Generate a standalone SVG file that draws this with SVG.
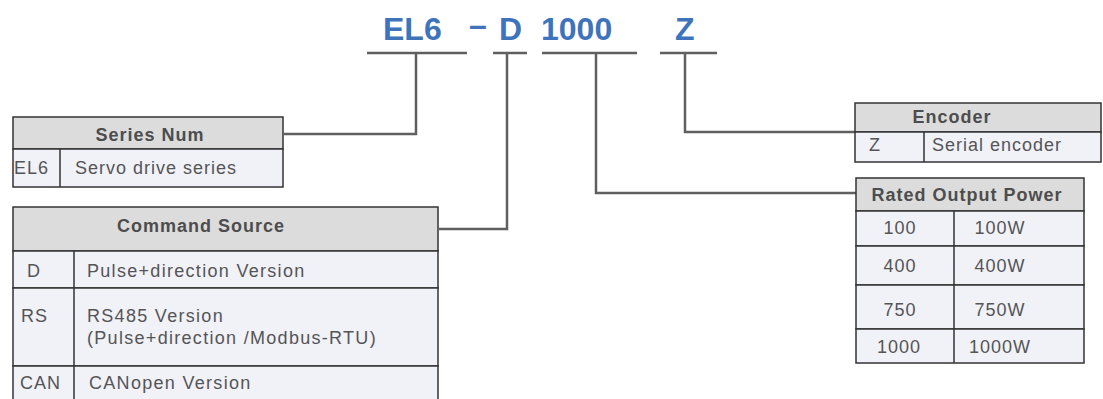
<svg xmlns="http://www.w3.org/2000/svg" width="1103" height="399" viewBox="0 0 1103 399">
<style>
.title{font-family:"Liberation Sans",Arial,sans-serif;font-weight:bold;font-size:32px;fill:#3f74bb}
.hdr{fill:#dcdcdc;stroke:#333;stroke-width:1.5}
.body{fill:#f1f1f8;stroke:#333;stroke-width:1.5}
.ln{stroke:#333;stroke-width:1.5;fill:none}
.ht{font-family:"Liberation Sans",Arial,sans-serif;font-weight:bold;font-size:18px;fill:#4d4d4d;text-anchor:middle;letter-spacing:1px}
.bt{font-family:"Liberation Sans",Arial,sans-serif;font-size:18px;fill:#555;letter-spacing:1px}
.wide{letter-spacing:1.3px}
.mid{text-anchor:middle}
.conn{stroke:#5f5f5f;stroke-width:2.5;fill:none}
</style>
<rect width="1103" height="399" fill="#fff"/>
<g id="title">
<text class="title" x="383" y="40">EL6</text>
<text class="title" x="469" y="36">–</text>
<text class="title" x="499" y="40">D</text>
<text class="title" x="541" y="40">1000</text>
<text class="title" x="675" y="40">Z</text>
</g>
<g id="connectors">
<path class="conn" d="M367 53H467M493 53H527M542 53H637M660 53H717"/>
<path class="conn" d="M416 53V134H284"/>
<path class="conn" d="M507 53V229H439"/>
<path class="conn" d="M596 53V193H856"/>
<path class="conn" d="M685 53V132H855"/>
</g>
<g id="series-num">
<rect class="hdr" x="13" y="117" width="270" height="32"/>
<rect class="body" x="13" y="149" width="270" height="38"/>
<path class="ln" d="M60 149V187"/>
<text class="ht" x="150" y="141">Series Num</text>
<text class="bt" x="14" y="174">EL6</text>
<text class="bt" x="75" y="174">Servo drive series</text>
</g>
<g id="command-source">
<rect class="hdr" x="13" y="207" width="425" height="44"/>
<rect class="body" x="13" y="251" width="425" height="37"/>
<rect class="body" x="13" y="288" width="425" height="78"/>
<rect class="body" x="13" y="366" width="425" height="40"/>
<path class="ln" d="M74 251V399"/>
<text class="ht" x="201" y="232">Command Source</text>
<text class="bt" x="27" y="277">D</text>
<text class="bt wide" x="87" y="277">Pulse+direction Version</text>
<text class="bt" x="21" y="322">RS</text>
<text class="bt wide" x="87" y="322">RS485 Version</text>
<text class="bt wide" x="87" y="344">(Pulse+direction /Modbus-RTU)</text>
<text class="bt" x="20" y="389">CAN</text>
<text class="bt wide" x="89" y="389">CANopen Version</text>
</g>
<g id="encoder">
<rect class="hdr" x="855" y="103" width="246" height="29"/>
<rect class="body" x="855" y="132" width="246" height="30"/>
<path class="ln" d="M924 132V162"/>
<text class="ht" x="952" y="123">Encoder</text>
<text class="bt" x="869" y="151">Z</text>
<text class="bt" x="932" y="151">Serial encoder</text>
</g>
<g id="rated-output-power">
<rect class="hdr" x="856" y="178" width="228" height="33"/>
<rect class="body" x="856" y="211" width="228" height="35"/>
<rect class="body" x="856" y="246" width="228" height="39"/>
<rect class="body" x="856" y="285" width="228" height="44"/>
<rect class="body" x="856" y="329" width="228" height="34"/>
<path class="ln" d="M954 211V363"/>
<text class="ht" x="967" y="201">Rated Output Power</text>
<text class="bt mid" x="900" y="234">100</text>
<text class="bt mid" x="1000" y="234">100W</text>
<text class="bt mid" x="900" y="272">400</text>
<text class="bt mid" x="1000" y="272">400W</text>
<text class="bt mid" x="900" y="316">750</text>
<text class="bt mid" x="1000" y="316">750W</text>
<text class="bt mid" x="899" y="353">1000</text>
<text class="bt mid" x="1000" y="353">1000W</text>
</g>
</svg>
